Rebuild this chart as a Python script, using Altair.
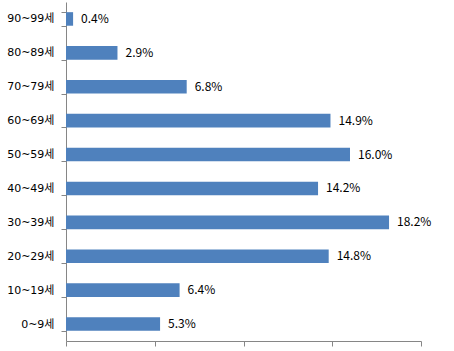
import altair as alt
import pandas as pd

categories = ["90~99세", "80~89세", "70~79세", "60~69세", "50~59세",
              "40~49세", "30~39세", "20~29세", "10~19세", "0~9세"]
values = [0.4, 2.9, 6.8, 14.9, 16.0, 14.2, 18.2, 14.8, 6.4, 5.3]
x_ticks = [0, 5, 10, 15, 20]

df = pd.DataFrame({"age": categories, "pct": values})
df["label"] = [f"{v:.1f}%" for v in values]

FONT = "Noto Sans CJK KR"
AXFONT = "DejaVu Sans, Noto Sans CJK KR"

y_enc = alt.Y("age:N", sort=categories,
              scale=alt.Scale(paddingInner=0.6, paddingOuter=0.3),
              axis=alt.Axis(title=None, tickBand="extent", tickSize=5,
                            labelPadding=7, labelFontSize=11, labelFont=AXFONT,
                            labelColor="#000000", domainColor="#868686",
                            tickColor="#868686", grid=False))
x_enc = alt.X("pct:Q", scale=alt.Scale(domain=[0, 20], nice=False),
              axis=alt.Axis(title=None, values=x_ticks, labels=False, tickSize=5,
                            domainColor="#868686", tickColor="#868686", grid=False))

bars = alt.Chart(df).mark_bar(color="#4F81BD").encode(x=x_enc, y=y_enc)
text = alt.Chart(df).mark_text(align="left", baseline="middle", dx=8,
                               font=FONT, fontSize=12, color="#000000").encode(
    x=alt.X("pct:Q"), y=alt.Y("age:N", sort=categories), text="label:N")

chart = (bars + text).properties(
    width=355, height=339,
    autosize=alt.AutoSizeParams(type="none"),
    padding={"left": 66, "top": 2, "right": 33, "bottom": 10},
    background="white",
).configure_view(stroke=None)

chart.save("out.html", embed_options={"renderer": "svg", "actions": False})
